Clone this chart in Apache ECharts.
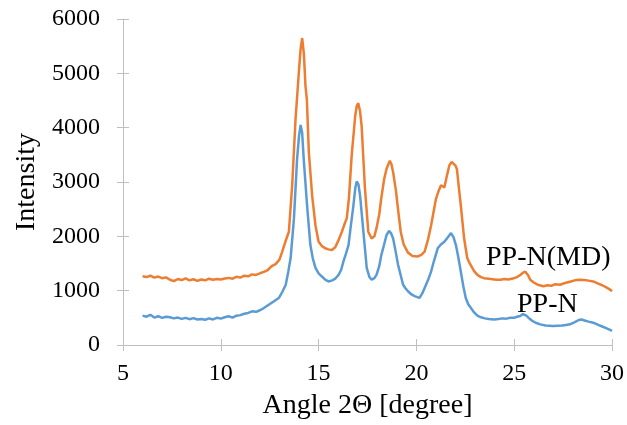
<!DOCTYPE html>
<html>
<head>
<meta charset="utf-8">
<script src="https://cdn.jsdelivr.net/npm/echarts@6/dist/echarts.min.js"></script>
<style>html,body{margin:0;padding:0;background:#fff;}#c{width:627px;height:425px;}</style>
</head>
<body>
<div id="c"></div>
<script>
var xTicks = [5, 10, 15, 20, 25, 30];
var yTicks = [0, 1000, 2000, 3000, 4000, 5000, 6000];

var mdAngle = [6.0,6.2,6.4,6.6,6.8,7.0,7.2,7.4,7.6,7.8,8.0,8.2,8.4,8.6,8.8,9.0,9.2,9.4,9.6,9.8,10.0,10.2,10.4,10.6,10.8,11.0,11.2,11.4,11.6,11.8,12.0,12.2,12.4,12.6,12.8,13.0,13.14,13.3,13.48,13.65,13.82,14.0,14.08,14.16,14.25,14.33,14.4,14.5,14.67,14.84,15.0,15.17,15.34,15.5,15.68,15.85,16.02,16.19,16.35,16.44,16.55,16.69,16.87,16.95,17.03,17.12,17.2,17.37,17.54,17.71,17.85,17.96,18.1,18.2,18.35,18.47,18.64,18.72,18.81,18.95,19.06,19.2,19.35,19.57,19.8,20.08,20.25,20.42,20.6,20.75,21.0,21.15,21.26,21.43,21.55,21.68,21.8,21.9,22.0,22.07,22.17,22.27,22.44,22.6,22.7,22.95,23.12,23.3,23.46,23.7,23.9,24.1,24.3,24.5,24.7,24.98,25.15,25.31,25.45,25.57,25.7,25.82,26.0,26.2,26.5,26.7,26.9,27.1,27.34,27.6,27.9,28.1,28.36,28.6,28.8,29.04,29.3,29.5,29.71,29.9,30.0];
var mdValue = [1265,1250,1275,1240,1260,1230,1245,1200,1175,1215,1195,1225,1190,1210,1180,1205,1190,1220,1200,1215,1205,1225,1235,1220,1255,1240,1275,1265,1300,1290,1320,1345,1380,1450,1490,1570,1720,1900,2085,2940,4150,5070,5450,5650,5350,4760,4520,3550,2750,2200,1900,1820,1780,1760,1750,1800,1930,2085,2250,2330,2700,3480,4210,4400,4450,4300,4030,2880,2085,1960,2000,2150,2400,2690,3050,3240,3390,3330,3180,2850,2500,2080,1850,1700,1640,1630,1660,1720,1950,2200,2690,2850,2940,2900,3100,3300,3370,3360,3300,3240,2900,2570,1960,1600,1520,1360,1290,1250,1230,1220,1210,1200,1200,1215,1205,1230,1250,1290,1330,1350,1290,1200,1150,1110,1080,1100,1090,1120,1110,1140,1170,1190,1200,1195,1185,1170,1130,1100,1060,1020,990];

var nAngle = [6.0,6.2,6.4,6.6,6.8,7.0,7.2,7.4,7.6,7.8,8.0,8.2,8.4,8.6,8.8,9.0,9.2,9.4,9.6,9.8,10.0,10.2,10.4,10.6,10.8,11.0,11.2,11.4,11.6,11.8,12.0,12.2,12.47,12.7,12.98,13.15,13.32,13.45,13.57,13.74,13.9,14.0,14.08,14.16,14.24,14.41,14.58,14.7,14.84,15.0,15.17,15.35,15.51,15.7,15.85,16.02,16.15,16.27,16.4,16.53,16.65,16.78,16.88,16.95,17.04,17.12,17.29,17.46,17.6,17.71,17.85,17.96,18.1,18.21,18.35,18.47,18.6,18.7,18.81,18.95,19.06,19.2,19.32,19.45,19.57,19.75,19.91,20.05,20.16,20.3,20.42,20.6,20.75,20.9,21.09,21.25,21.43,21.6,21.77,21.9,22.02,22.15,22.27,22.4,22.52,22.65,22.78,22.95,23.12,23.3,23.5,23.7,23.97,24.2,24.4,24.6,24.8,24.98,25.15,25.31,25.45,25.52,25.62,25.74,25.9,26.1,26.33,26.6,26.8,27.0,27.2,27.45,27.65,27.85,28.1,28.3,28.44,28.6,28.8,29.04,29.3,29.5,29.7,29.9,30.0];
var nValue = [540,520,555,505,530,500,520,510,490,505,480,500,475,495,470,480,465,490,470,500,485,510,530,505,540,550,575,590,620,610,640,680,745,800,870,980,1110,1350,1600,2330,3420,3850,4050,3900,3420,2570,1840,1600,1420,1320,1260,1200,1170,1190,1220,1290,1380,1540,1680,1840,2200,2570,2900,3010,2950,2750,2085,1420,1250,1200,1230,1290,1450,1660,1850,2020,2100,2060,1960,1700,1480,1280,1110,1040,990,930,900,880,870,950,1050,1200,1350,1550,1780,1850,1900,1980,2060,1980,1840,1600,1350,1080,870,750,685,600,540,510,490,480,470,480,490,485,500,500,520,535,570,580,540,500,450,410,380,360,355,350,355,360,370,380,420,460,470,450,430,410,370,340,310,280,260];

var seriesNames = ['PP-N', 'PP-N(MD)'];

function pairs(a, v) { return a.map(function (x, i) { return [x, v[i]]; }); }

var font = 'Liberation Serif, Times New Roman, serif';
var axisGray = '#bfbfbf';

var chart = echarts.init(document.getElementById('c'), null, {renderer: 'canvas'});
chart.setOption({
  animation: false,
  backgroundColor: '#fff',
  grid: {left: 123, right: 11, top: 19, bottom: 77.5, containLabel: false},
  xAxis: [{
    type: 'value', min: xTicks[0], max: xTicks[xTicks.length - 1], interval: 5,
    position: 'bottom',
    name: 'Angle 2\u0398 [degree]', nameLocation: 'middle', nameGap: 47,
    nameTextStyle: {fontFamily: font, fontSize: 28, color: '#000'},
    axisLine: {show: true, lineStyle: {color: axisGray, width: 1}},
    axisTick: {show: true, length: 6, lineStyle: {color: axisGray}},
    axisLabel: {fontFamily: font, fontSize: 24, color: '#000', margin: 17},
    splitLine: {show: false}
  }, {
    type: 'value', min: xTicks[0], max: xTicks[xTicks.length - 1], interval: 5,
    position: 'bottom',
    axisLine: {show: false},
    axisTick: {show: true, inside: true, length: 6, lineStyle: {color: axisGray}},
    axisLabel: {show: false},
    splitLine: {show: false}
  }],
  yAxis: [{
    type: 'value', min: yTicks[0], max: yTicks[yTicks.length - 1], interval: 1000,
    position: 'left',
    name: 'Intensity', nameLocation: 'middle', nameGap: 80,
    nameTextStyle: {fontFamily: font, fontSize: 28, color: '#000'},
    axisLine: {show: true, lineStyle: {color: axisGray, width: 1}},
    axisTick: {show: true, length: 6, lineStyle: {color: axisGray}},
    axisLabel: {fontFamily: font, fontSize: 24, color: '#000', margin: 23,
      formatter: function (v) { return String(v); }},
    splitLine: {show: false}
  }, {
    type: 'value', min: yTicks[0], max: yTicks[yTicks.length - 1], interval: 1000,
    position: 'left',
    axisLine: {show: false},
    axisTick: {show: true, inside: true, length: 6, lineStyle: {color: axisGray}},
    axisLabel: {show: false},
    splitLine: {show: false}
  }],
  series: [{
    name: seriesNames[0], type: 'line', data: pairs(nAngle, nValue),
    showSymbol: false, symbol: 'none', smooth: false,
    lineStyle: {color: '#5b9bd5', width: 2.5}, itemStyle: {color: '#5b9bd5'}, z: 3
  }, {
    name: seriesNames[1], type: 'line', data: pairs(mdAngle, mdValue),
    showSymbol: false, symbol: 'none', smooth: false,
    lineStyle: {color: '#ed7d31', width: 2.5}, itemStyle: {color: '#ed7d31'}, z: 2
  }],
  graphic: [{
    type: 'text', left: 486, top: 244,
    style: {text: seriesNames[1], fontFamily: font, fontSize: 28, fill: '#000'}
  }, {
    type: 'text', left: 517, top: 291,
    style: {text: seriesNames[0], fontFamily: font, fontSize: 28, fill: '#000'}
  }]
});
</script>
</body>
</html>
